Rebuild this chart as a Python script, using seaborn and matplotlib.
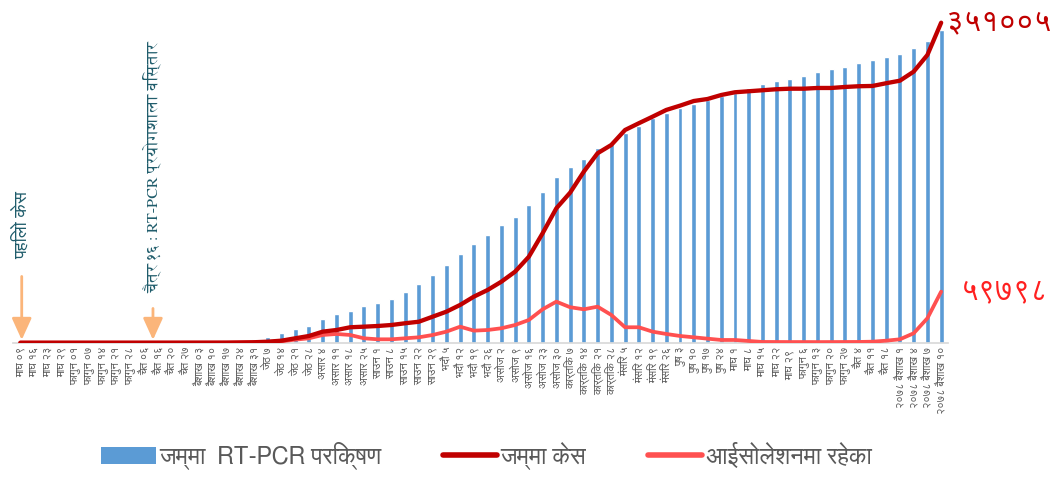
import matplotlib
matplotlib.use("Agg")
import matplotlib.pyplot as plt
from matplotlib.patches import Patch
from matplotlib.lines import Line2D
import numpy as np
import pandas as pd
import seaborn as sns

dates = [
    'माघ ०९', 'माघ १६', 'माघ २३', 'माघ २९', 'फागुन ०१', 'फागुन ०७', 'फागुन १४', 'फागुन २१',
    'फागुन २८', 'चैत ०६', 'चैत १६', 'चैत २०', 'चैत २७', 'बैशाख ०३', 'बैशाख १०', 'बैशाख १७',
    'बैशाख २४', 'बैशाख ३१', 'जेठ ७', 'जेठ १४', 'जेठ २१', 'जेठ २८', 'असार ४', 'असार ११',
    'असार १८', 'असार २५', 'साउन १', 'साउन ८', 'साउन १५', 'साउन २२', 'साउन २९', 'भदौ ५',
    'भदौ १२', 'भदौ १९', 'भदौ २६', 'असोज २', 'असोज ९', 'असोज १६', 'असोज २३', 'असोज ३०',
    'कार्तिक ७', 'कार्तिक १४', 'कार्तिक २१', 'कार्तिक २८', 'मंसिर ५', 'मंसिर १२', 'मंसिर १९', 'मंसिर २६',
    'पुष ३', 'पुष १०', 'पुष १७', 'पुष २४', 'माघ १', 'माघ ८', 'माघ १५', 'माघ २२',
    'माघ २९ ', 'फागुन ६', 'फागुन १३', 'फागुन २०', 'फागुन २७', 'चैत ४', 'चैत ११', 'चैत १८',
    '२०७८ बैशाख १', '२०७८ बैशाख ४', '२०७८ बैशाख ७', '२०७८ बैशाख १०',
]

tests = [
    0, 0, 0, 0, 0, 0, 0, 0, 0, 100, 300, 600, 900, 1500, 2500, 4000, 7000,
    27000, 43000, 80000, 107000, 134000, 187000, 230000, 256000, 294000, 318000,
    352000, 406000, 467000, 544000, 622000, 710000, 790000, 859000, 939000, 1008000,
    1104000, 1208000, 1323000, 1403000, 1472000, 1560000, 1592000, 1675000, 1734000,
    1795000, 1840000, 1875000, 1910000, 1942000, 1974000, 2000000, 2040000, 2070000,
    2094000, 2110000, 2136000, 2163000, 2190000, 2206000, 2235000, 2259000, 2286000,
    2312000, 2355000, 2416000, 2502000,
]

cases = [
    1, 1, 1, 1, 1, 1, 1, 1, 1, 5, 9, 14, 31, 45, 52, 75, 250,
    450, 1100, 2200, 4800, 7350, 12100, 13900, 16900, 17550, 18300, 19400, 21300,
    23000, 28500, 34000, 41400, 50500, 57800, 66900, 77900, 94300, 120000, 147400,
    164500, 187600, 207800, 216900, 233300, 240700, 247900, 255300, 260000, 265100,
    267300, 271700, 274700, 275800, 276900, 278000, 278600, 278600, 279400, 279400,
    280500, 281300, 281600, 284600, 287400, 297300, 315600, 351005,
]

isolation = [
    1, 1, 1, 1, 1, 1, 1, 1, 1, 4, 8, 12, 25, 35, 40, 60, 200,
    440, 770, 1540, 3300, 4800, 8450, 9550, 8450, 4800, 3700, 3700, 4800,
    5900, 8450, 12100, 17550, 13200, 13900, 15800, 19400, 24900, 36600, 45000,
    38900, 36600, 39500, 30400, 16900, 16900, 12100, 9550, 7350, 5900,
    4400, 2960, 2960, 1860, 800, 750, 700, 700, 650, 700, 750, 800,
    1100, 2200, 3700, 10300, 26800, 56000,
]

total_cases_text = '३५१००५'
isolation_text = '५९७९८'
legend_labels = ['जम्मा  RT-PCR परिक्षण', 'जम्मा केस', 'आईसोलेशनमा रहेका']

df = pd.DataFrame({'pos': np.arange(len(dates)), 'date': dates,
                   'tests': tests, 'cases': cases, 'isolation': isolation})

sns.set_theme(style="white")
plt.rcParams['font.family'] = ['FreeSans', 'DejaVu Sans']

fig = plt.figure(figsize=(10.53, 4.79), dpi=100)
ax = fig.add_axes([0.0128, 0.2846, 0.8875, 0.7154])
ax2 = ax.twinx()

sns.barplot(data=df, x='pos', y='tests', color='#5B9BD5', width=0.36,
            saturation=1, ax=ax)
sns.lineplot(data=df, x='pos', y='isolation', color='#FF5050', linewidth=2.7, ax=ax2)
sns.lineplot(data=df, x='pos', y='cases', color='#C00000', linewidth=3.1, ax=ax2)

n = len(dates)
for a in (ax, ax2):
    a.set_xlim(-0.5, n - 0.5)
    a.set_ylabel('')
    a.set_xlabel('')
    a.set_yticks([])
    for s in ('top', 'left', 'right'):
        a.spines[s].set_visible(False)
ax.set_ylim(0, 2741600)
ax2.set_ylim(0, 375900)
ax.spines['bottom'].set_color('#D9D9D9')
ax2.spines['bottom'].set_visible(False)

ax.set_xticks(range(n))
ax.set_xticklabels(dates, rotation=90, fontsize=8, color='#595959')
ax.tick_params(axis='x', length=0, pad=3)

# annotations
note_color = '#1F5C6B'
arrow_color = '#FBB57A'
ax2.annotate('', xy=(0.1, 0), xytext=(0.1, 69 * 1097),
             arrowprops=dict(arrowstyle='-|>,head_width=0.5,head_length=1.1',
                             color=arrow_color, lw=2))
ax2.text(0.1, 84 * 1097, 'पहिलो केस', rotation=90, ha='center', va='bottom',
         fontsize=13, color=note_color)
ax2.annotate('', xy=(9.65, 0), xytext=(9.65, 37 * 1097),
             arrowprops=dict(arrowstyle='-|>,head_width=0.5,head_length=1.1',
                             color=arrow_color, lw=2))
ax2.text(9.65, 50 * 1097, 'चैत्र १६: RT-PCR प्रयोगशाला विस्तार', rotation=90,
         ha='center', va='bottom', fontsize=11.5, color=note_color,
         family=['FreeSerif', 'DejaVu Sans'])

ax2.text(n - 1 + 0.35, cases[-1], total_cases_text, ha='left', va='center',
         fontsize=22, color='#C00000')
ax2.text(n - 1 + 1.4, isolation[-1], isolation_text, ha='left', va='center',
         fontsize=22, color='#FF2020')

handles = [
    Patch(facecolor='#5B9BD5', edgecolor='none'),
    Line2D([0], [0], color='#C00000', lw=4),
    Line2D([0], [0], color='#FF5050', lw=4),
]
fig.legend(handles, legend_labels,
           loc='lower center', bbox_to_anchor=(0.462, -0.025), ncol=3, frameon=False,
           fontsize=17, handlelength=2.3, handletextpad=0.15, columnspacing=2.6,
           labelcolor='#595959')

fig.savefig('out.png', dpi=100)
